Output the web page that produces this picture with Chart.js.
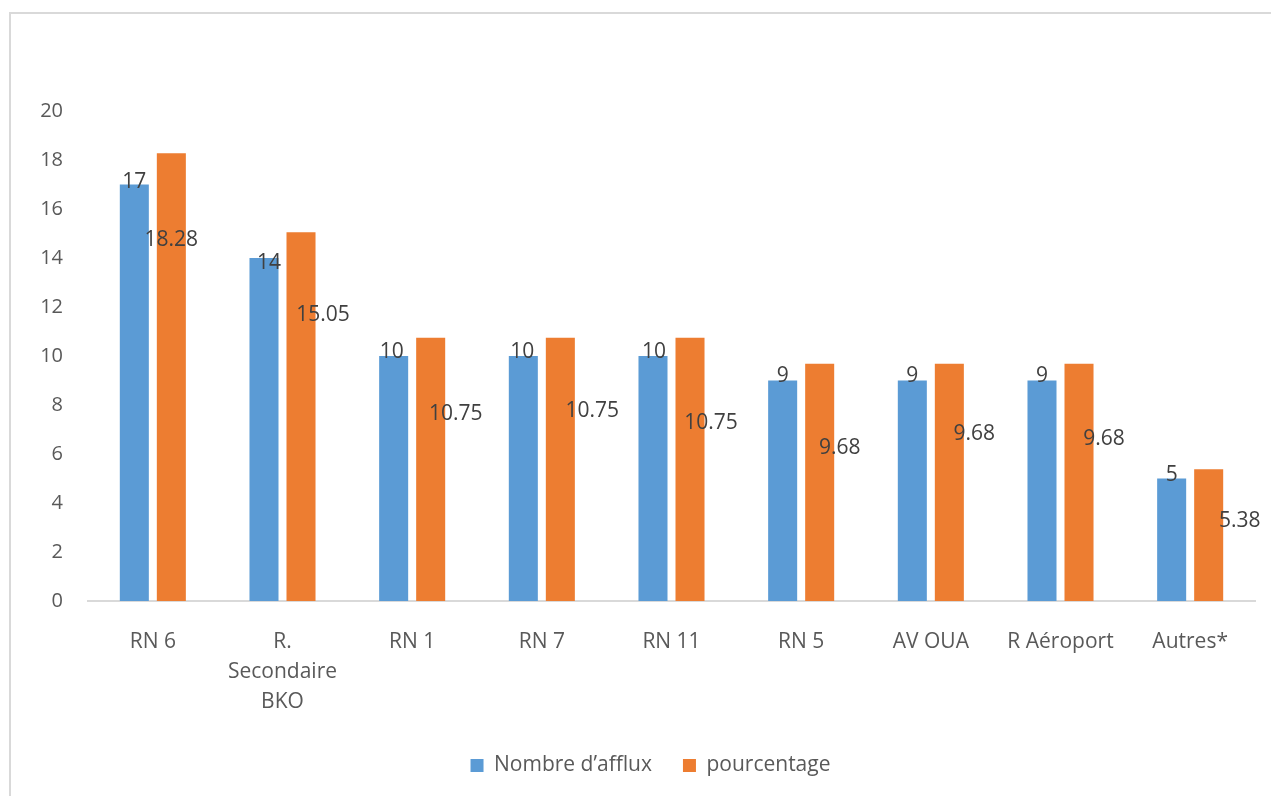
<!DOCTYPE html>
<html>
<head>
<meta charset="utf-8">
<script src="https://cdn.jsdelivr.net/npm/chart.js@4/dist/chart.umd.min.js"></script>
<style>
  html, body { margin: 0; padding: 0; background: #fff; overflow: hidden; }
  #frame {
    position: absolute; left: 9px; top: 12px; width: 1400px; height: 900px;
    border-left: 2px solid #d9d9d9; border-top: 2px solid #d9d9d9;
  }
  #wrap { position: absolute; left: 0; top: 0; width: 1271px; height: 796px; }
</style>
</head>
<body>
<div id="frame"></div>
<div id="wrap"><canvas id="chart"></canvas></div>
<script>
// données
const categories = ['RN 6', ['R.', 'Secondaire', 'BKO'], 'RN 1', 'RN 7', 'RN 11', 'RN 5', 'AV OUA', 'R Aéroport', 'Autres*'];
const afflux = [17, 14, 10, 10, 10, 9, 9, 9, 5];
const pourcentage = [18.28, 15.05, 10.75, 10.75, 10.75, 9.68, 9.68, 9.68, 5.38];
const yTicks = [0, 2, 4, 6, 8, 10, 12, 14, 16, 18, 20];

// décalage des étiquettes (px) par rapport au sommet des barres
const labelShift = [
  { dx: [0, 5, -2, -1, 1, 0, 0, 0, 0], dy: [-2, 5, -4, -4, -4, -4, -4, -4, -3] },
  { dx: [0, 22, 25, 32, 21, 20, 25, 25, 31], dy: [87, 83, 76, 73, 85, 84, 70, 75, 52] }
];

const font = "'Open Sans', 'Liberation Sans', sans-serif";

// étiquettes de valeurs
const valueLabels = {
  id: 'valueLabels',
  afterLayout(chart) {
    // légende un peu décalée vers la droite, comme dans l'original
    chart.legend.left += 23;
    chart.legend.right += 23;
  },
  afterDatasetsDraw(chart) {
    const ctx = chart.ctx;
    ctx.save();
    ctx.font = `21px ${font}`;
    ctx.fillStyle = '#404040';
    ctx.textAlign = 'center';
    ctx.textBaseline = 'middle';
    chart.data.datasets.forEach((ds, i) => {
      const meta = chart.getDatasetMeta(i);
      meta.data.forEach((bar, j) => {
        const s = labelShift[i];
        ctx.fillText(String(ds.data[j]), bar.x + s.dx[j], bar.y + s.dy[j]);
      });
    });
    ctx.restore();
  }
};

new Chart(document.getElementById('chart'), {
  type: 'bar',
  data: {
    labels: categories,
    datasets: [
      { label: 'Nombre d\u2019afflux', data: afflux, backgroundColor: '#5b9bd5' },
      { label: 'pourcentage', data: pourcentage, backgroundColor: '#ed7d31' }
    ]
  },
  options: {
    responsive: true,
    maintainAspectRatio: false,
    animation: false,
    categoryPercentage: 0.571,
    barPercentage: 0.784,
    layout: { padding: { left: 0, right: 16, top: 111, bottom: 10 } },
    scales: {
      x: {
        grid: { display: false, drawTicks: false },
        border: { display: true, color: '#d9d9d9', width: 2 },
        ticks: {
          color: '#595959',
          font: { family: font, size: 21, lineHeight: 1.43 },
          padding: 26,
          maxRotation: 0,
          autoSkip: false
        },
        afterFit: s => { s.height = 123; }
      },
      y: {
        min: 0,
        max: 20,
        afterBuildTicks: s => { s.ticks = yTicks.map(v => ({ value: v })); },
        grid: { display: false, drawTicks: false },
        border: { display: false },
        ticks: {
          color: '#595959',
          font: { family: font, size: 20 },
          padding: 25
        },
        afterFit: s => { s.width = 88; }
      }
    },
    plugins: {
      legend: {
        position: 'bottom',
        labels: {
          boxWidth: 13,
          boxHeight: 13,
          padding: 31,
          color: '#595959',
          font: { family: font, size: 21 }
        }
      },
      tooltip: { enabled: false }
    }
  },
  plugins: [valueLabels]
});
</script>
</body>
</html>
